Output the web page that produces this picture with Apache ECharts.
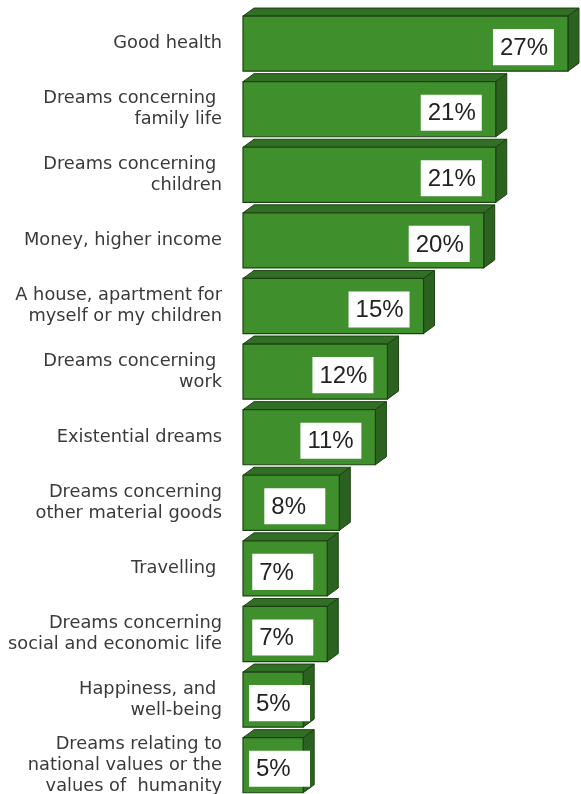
<!DOCTYPE html>
<html>
<head>
<meta charset="utf-8">
<script src="https://cdn.jsdelivr.net/npm/echarts@6/dist/echarts.min.js"></script>
<style>
  html, body { margin: 0; padding: 0; background: #fff; }
  #chart { width: 581px; height: 794px; }
</style>
</head>
<body>
<div id="chart"></div>
<script>
// Dreams, share of answers (%)
const categories = [
  'Good health',
  'Dreams concerning \nfamily life',
  'Dreams concerning \nchildren',
  'Money, higher income',
  'A house, apartment for\nmyself or my children',
  'Dreams concerning \nwork',
  'Existential dreams',
  'Dreams concerning\nother material goods',
  'Travelling ',
  'Dreams concerning\nsocial and economic life',
  'Happiness, and \nwell-being',
  'Dreams relating to\nnational values or the\nvalues of  humanity'
];
const values = [27, 21, 21, 20, 15, 12, 11, 8, 7, 7, 5, 5];
const valueLabels = ['27%', '21%', '21%', '20%', '15%', '12%', '11%', '8%', '7%', '7%', '5%', '5%'];

const FRONT = '#3f8f2c';
const TOP = '#306f24';
const SIDE = '#2b6220';
const EDGE = '#1c4213';

// Draws one bar as a block: front face, top face and right side face,
// with a white value box near the right end of the front face.
function renderBlock(params, api) {
  const idx = api.value(1);
  const v = api.value(0);
  const start = api.coord([0, idx]);
  const end = api.coord([v, idx]);
  const band = api.size([0, 1])[1];
  const fh = band * 0.84;
  const dx = 11, dy = 8;
  const x0 = start[0], x1 = end[0];
  const ft = end[1] - fh / 2, fb = end[1] + fh / 2;

  const boxH = fh - 19;
  const boxW = 61;
  let boxRight = x1 - 14;
  let boxLeft = boxRight - boxW;
  if (boxLeft < x0 + 6) { boxLeft = x0 + 6; }
  const boxTop = ft + 13;

  return {
    type: 'group',
    children: [
      {
        type: 'polygon',
        shape: { points: [[x0, ft], [x0 + dx, ft - dy], [x1 + dx, ft - dy], [x1, ft]] },
        style: { fill: TOP, stroke: EDGE, lineWidth: 1 }
      },
      {
        type: 'polygon',
        shape: { points: [[x1, ft], [x1 + dx, ft - dy], [x1 + dx, fb - dy], [x1, fb]] },
        style: { fill: SIDE, stroke: EDGE, lineWidth: 1 }
      },
      {
        type: 'rect',
        shape: { x: x0, y: ft, width: x1 - x0, height: fh },
        style: { fill: FRONT, stroke: EDGE, lineWidth: 1.2 }
      },
      {
        type: 'rect',
        shape: { x: boxLeft, y: boxTop, width: boxW, height: boxH },
        style: { fill: '#ffffff' }
      },
      {
        type: 'text',
        style: {
          x: boxLeft + 7,
          y: boxTop + boxH / 2 + 1,
          text: valueLabels[params.dataIndex],
          fill: '#232323',
          fontSize: 24,
          fontFamily: '"Liberation Sans", Arial, sans-serif',
          align: 'left',
          verticalAlign: 'middle'
        }
      }
    ]
  };
}

const chart = echarts.init(document.getElementById('chart'), null, { renderer: 'canvas' });
chart.setOption({
  animation: false,
  backgroundColor: '#ffffff',
  grid: {
    left: 243, right: 1, top: 10.8, height: 787.2,
    containLabel: false,
    outerBoundsMode: 'none'
  },
  xAxis: { type: 'value', min: 0, max: 28, show: false },
  yAxis: {
    type: 'category',
    inverse: true,
    data: categories,
    axisLine: { show: false },
    axisTick: { show: false },
    splitLine: { show: false },
    axisLabel: {
      margin: 21,
      align: 'right',
      color: '#3a3a3a',
      fontSize: 17.8,
      lineHeight: 21,
      fontFamily: '"DejaVu Sans", sans-serif'
    }
  },
  series: [{
    type: 'custom',
    clip: false,
    renderItem: renderBlock,
    encode: { x: 0, y: 1 },
    data: values.map((v, i) => [v, i])
  }]
});
</script>
</body>
</html>
